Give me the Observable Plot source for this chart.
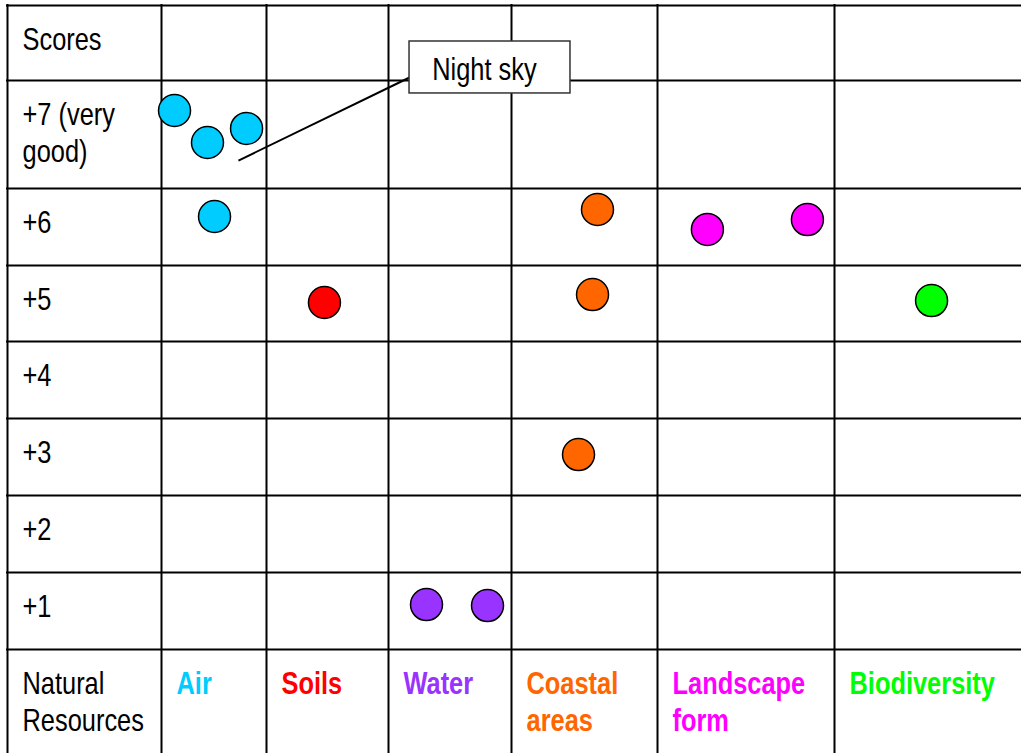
<!DOCTYPE html>
<html><head><meta charset="utf-8">
<script src="https://cdn.jsdelivr.net/npm/d3@7"></script>
<script src="https://cdn.jsdelivr.net/npm/@observablehq/plot@0.6"></script>
<style>html,body{margin:0;padding:0;background:#fff;} #chart svg{display:block;}</style>
</head><body><div id="chart"></div>
<script>
// ---------------- Data ----------------
const resources = ["Air", "Soils", "Water", "Coastal areas", "Landscape form", "Biodiversity"];
const resourceLabels = ["Air", "Soils", "Water", "Coastal\nareas", "Landscape\nform", "Biodiversity"];
const scoreLabels = ["Scores", "+7 (very\ngood)", "+6", "+5", "+4", "+3", "+2", "+1", "Natural\nResources"];
const scoreValues = [null, 7, 6, 5, 4, 3, 2, 1, null];
const dotResource = ["Air", "Air", "Air", "Air", "Soils", "Water", "Water",
  "Coastal areas", "Coastal areas", "Coastal areas", "Landscape form", "Landscape form", "Biodiversity"];
const dotScore = [7, 7, 7, 6, 5, 1, 1, 6, 5, 3, 6, 6, 5];
const calloutLabel = "Night sky";

// ---------------- Layout & style (not data) ----------------
const colEdges = [7, 161, 266, 388, 511, 657, 834, 1021];
const rowEdges = [5, 80, 188, 265, 341, 418, 495, 572, 649, 753];
const resourceColors = ["#00ccff", "#ff0000", "#9933ff", "#ff6600", "#ff00ff", "#00ff00"];
// position of each dot inside its cell (fraction of cell width, fraction of cell height)
const dotPlacement = [[0.124, 0.278], [0.438, 0.574], [0.81, 0.444], [0.505, 0.364], [0.475, 0.487],
  [0.309, 0.416], [0.805, 0.429], [0.589, 0.273], [0.555, 0.382], [0.459, 0.468],
  [0.282, 0.532], [0.847, 0.403], [0.519, 0.461]];
// callout geometry in cell units
const calloutBox = {x1: 3.171, x2: 4.404, y1: 0.48, y2: 1.12};
const calloutLine = {x1: 1.733, y1: 1.741, x2: 3.171, y2: 0.96};
const calloutText = {x: 3.78, y: 0.99};

function fontAvailable(name) {
  const c = document.createElement("canvas").getContext("2d");
  const t = "Natural Resources Biodiversity";
  c.font = "31px monospace"; const w1 = c.measureText(t).width;
  c.font = `31px '${name}', monospace`; const w2 = c.measureText(t).width;
  return Math.abs(w1 - w2) > 0.5;
}
const narrow = fontAvailable("Liberation Sans Narrow");
const fontFamily = narrow ? "'Liberation Sans Narrow', 'Arial Narrow', sans-serif" : "'Liberation Sans', Arial, sans-serif";
const squeeze = narrow ? 1 : 0.82;

const dots = dotResource.map((r, i) => ({
  resource: r,
  score: dotScore[i],
  col: resources.indexOf(r) + 1,
  row: scoreValues.indexOf(dotScore[i])
}));

const nCols = colEdges.length - 1;
const nRows = rowEdges.length - 1;

const chart = Plot.plot({
  width: 1021,
  height: 753,
  margin: 0,
  style: {fontFamily, background: "#fff"},
  x: {type: "linear", domain: d3.range(colEdges.length), range: colEdges, axis: null},
  y: {type: "linear", domain: d3.range(rowEdges.length), range: rowEdges, axis: null},
  color: {domain: resources, range: resourceColors},
  marks: [
    Plot.ruleX(d3.range(nCols), {x: d => d, y1: 0, y2: nRows, stroke: "#000", strokeWidth: 2, strokeLinecap: "square"}),
    Plot.ruleY(d3.range(nRows), {y: d => d, x1: 0, x2: nCols, stroke: "#000", strokeWidth: 2, strokeLinecap: "square"}),
    Plot.text(scoreLabels, {
      x: 0, y: (d, i) => i, text: d => d, dx: 15, dy: 18,
      textAnchor: "start", lineAnchor: "top", lineHeight: 1.2, fontSize: 31, fill: "#000"
    }),
    Plot.text(resources, {
      x: (d, i) => i + 1, y: nRows - 1, text: (d, i) => resourceLabels[i], fill: d => d,
      dx: 15, dy: 18, textAnchor: "start", lineAnchor: "top", lineHeight: 1.2, fontSize: 31, fontWeight: "bold"
    }),
    Plot.dot(dots, {
      x: (d, i) => d.col + dotPlacement[i][0],
      y: (d, i) => d.row + dotPlacement[i][1],
      r: 16, fill: "resource", stroke: "#000", strokeWidth: 1.5
    }),
    Plot.link([calloutLabel], {x1: calloutLine.x1, y1: calloutLine.y1, x2: calloutLine.x2, y2: calloutLine.y2, stroke: "#000", strokeWidth: 2}),
    Plot.rect([calloutLabel], {x1: calloutBox.x1, x2: calloutBox.x2, y1: calloutBox.y1, y2: calloutBox.y2, fill: "#fff", stroke: "#333", strokeWidth: 1.5}),
    Plot.text([calloutLabel], {x: calloutText.x, y: calloutText.y, text: d => d, textAnchor: "middle", lineAnchor: "bottom", fontSize: 31, fill: "#000"})
  ]
});

if (squeeze !== 1) {
  chart.querySelectorAll("text").forEach(t => {
    const tr = t.getAttribute("transform") || "";
    t.setAttribute("transform", tr + ` scale(${squeeze},1)`);
  });
}
document.getElementById("chart").appendChild(chart);
</script>
</body></html>
